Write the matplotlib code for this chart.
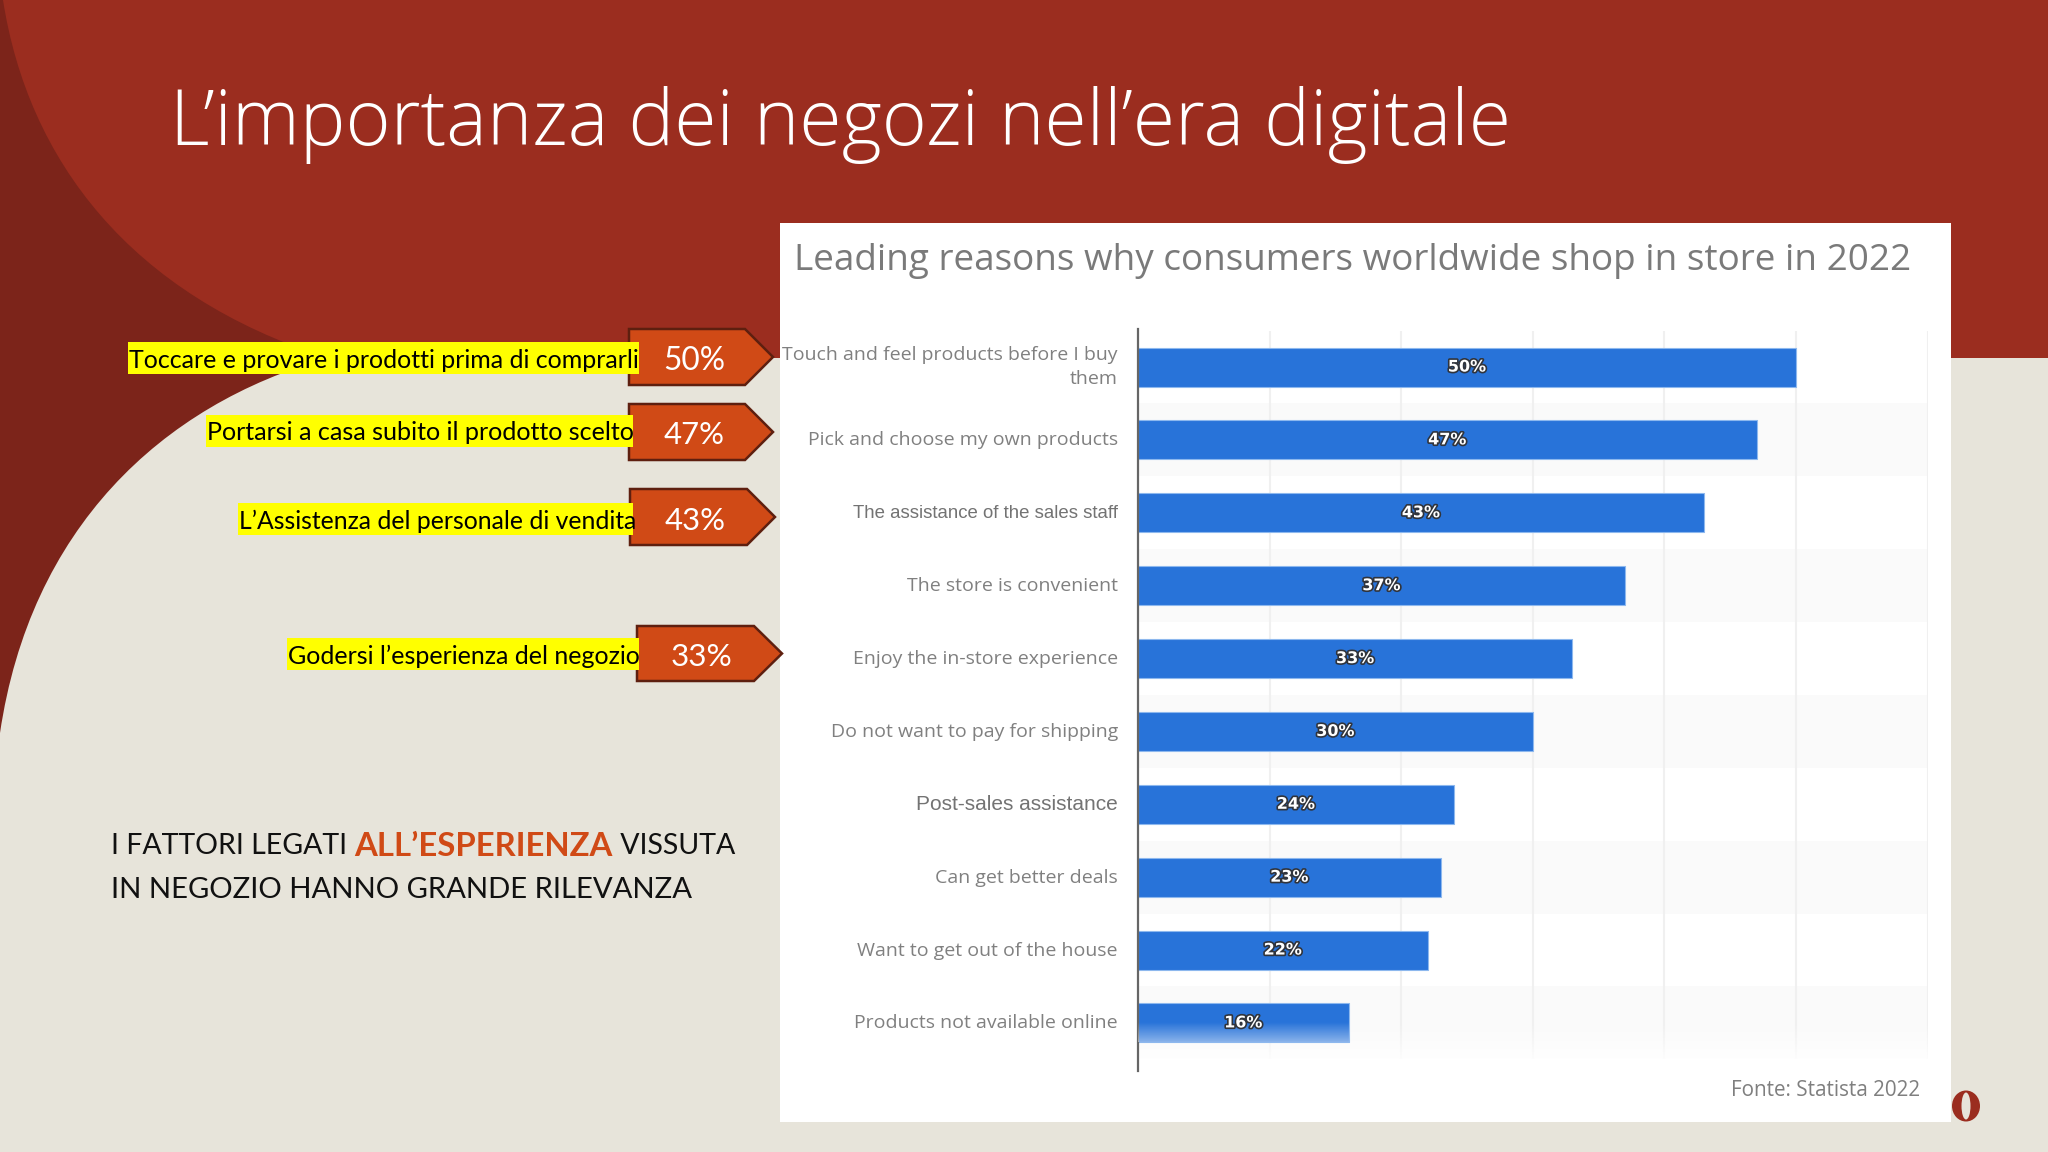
import numpy as np
import matplotlib
matplotlib.use("Agg")
import matplotlib.pyplot as plt
import matplotlib.patheffects as pe
from matplotlib.patches import PathPatch, Polygon, Rectangle, Ellipse
from matplotlib.path import Path
from matplotlib.textpath import TextPath
from matplotlib.font_manager import FontProperties
from matplotlib.transforms import ScaledTranslation

categories = ["Touch and feel products before I buy\nthem", "Pick and choose my own products",
              "The assistance of the sales staff", "The store is convenient",
              "Enjoy the in-store experience", "Do not want to pay for shipping",
              "Post-sales assistance", "Can get better deals",
              "Want to get out of the house", "Products not available online"]
values = [50, 47, 43, 37, 33, 30, 24, 23, 22, 16]
value_labels = ["50%", "47%", "43%", "37%", "33%", "30%", "24%", "23%", "22%", "16%"]
callout_texts = ["Toccare e provare i prodotti prima di comprarli", "Portarsi a casa subito il prodotto scelto",
                 "L’Assistenza del personale di vendita", "Godersi l’esperienza del negozio"]
callout_values = ["50%", "47%", "43%", "33%"]

RED, DARK, BEIGE = "#9B2D1F", "#7C241A", "#E7E4DA"
ORANGE, EDGE, BLUE = "#D04A16", "#5E1F0F", "#2873D9"
S = 2048 / 1568


def fit(s, width, family, weight="normal"):
    fp = FontProperties(family=family, weight=weight)
    w = TextPath((0, 0), s, size=10, prop=fp).get_extents().width
    return 10 * width / w * 72 / 100


fig = plt.figure(figsize=(20.48, 11.52), dpi=100)
bg = fig.add_axes([0, 0, 1, 1])
bg.set_xlim(0, 2048)
bg.set_ylim(1152, 0)
bg.axis("off")
bg.add_patch(Rectangle((0, 0), 2048, 1152, color=BEIGE, lw=0))
bg.add_patch(Rectangle((0, 0), 2048, 358, color=RED, lw=0))
verts = [(3, 0), (28, 160), (130, 295), (328, 358), (160, 405), (30, 530), (0, 733), (0, 0), (3, 0)]
codes = [Path.MOVETO, Path.CURVE4, Path.CURVE4, Path.CURVE4, Path.CURVE4, Path.CURVE4, Path.CURVE4,
         Path.LINETO, Path.CLOSEPOLY]
bg.add_patch(PathPatch(Path(verts, codes), facecolor=DARK, lw=0))

title = "L’importanza dei negozi nell’era digitale"
bg.text(170, 125, title, color="white", family="Open Sans", weight="light",
        fontsize=fit(title, 1327, "Open Sans", "light"), va="center", ha="left")

# card
bg.add_patch(Rectangle((780, 223), 1171, 899, color="white", lw=0))
chart_title = "Leading reasons why consumers worldwide shop in store in 2022"
bg.text(794, 261, chart_title, color="#7A7A7A", family="Open Sans",
        fontsize=fit(chart_title, 1114, "Open Sans"), va="center", ha="left")
bg.text(1920, 1091, "Fonte: Statista 2022", color="#7F7F7F", family="Open Sans",
        fontsize=fit("Fonte: Statista 2022", 186, "Open Sans"), va="center", ha="right")

# logo
bg.add_patch(Ellipse((1966, 1106), 28, 31, color=RED, lw=0))
bg.add_patch(Ellipse((1966, 1106), 9, 27, color=BEIGE, lw=0))

# callouts
boxes = [(629, 329, 56, 745, 773), (629, 404, 56, 745, 773), (630, 489, 56, 747, 775), (637, 626, 55, 754, 782)]
yellows = [(128, 342, 639), (206, 415, 633), (238, 503, 633), (287, 638, 639)]
for (x0, y0, h, sh, tip), (yx0, yy0, yx1), txt, val in zip(boxes, yellows, callout_texts, callout_values):
    bg.add_patch(Polygon([(x0, y0), (sh, y0), (tip, y0 + h / 2), (sh, y0 + h), (x0, y0 + h)],
                         closed=True, facecolor=ORANGE, edgecolor=EDGE, lw=1.8))
    bg.add_patch(Rectangle((yx0, yy0), yx1 - yx0, 32, color="#FFFF00", lw=0, zorder=3))
    bg.text(yx0 + 1, yy0 + 16, txt, color="black", family="Lato", va="center_baseline", ha="left", zorder=4,
            fontsize=fit(txt, yx1 - yx0 - 2, "Lato"))
    bg.text(x0 + 65, y0 + h / 2 + 1, val, color="white", family="Lato", va="center_baseline", ha="center",
            fontsize=fit(val, 59, "Lato"), zorder=4)

# bottom text
fs = fit("IN NEGOZIO HANNO GRANDE RILEVANZA", 581, "Lato")
bg.text(111, 887, "IN NEGOZIO HANNO GRANDE RILEVANZA", color="#111111", family="Lato", fontsize=fs,
        va="center_baseline", ha="left")
fig.canvas.draw()
r = fig.canvas.get_renderer()
x = 111
for s, c, w, size in [("I FATTORI LEGATI ", "#111111", "normal", fs * 0.975),
                      ("ALL’ESPERIENZA", ORANGE, "bold", fs * 1.12),
                      (" VISSUTA", "#111111", "normal", fs * 0.975)]:
    t = bg.text(x, 844, s.replace(" ", "\u00a0"), color=c, family="Lato", weight=w, fontsize=size,
                va="center_baseline", ha="left")
    x += t.get_window_extent(r).width

# chart
top, bottom, left, right = 252 * S, 820 * S, 1138, 1138 + 60 * 131.6 / 10
ax = fig.add_axes([left / 2048, 1 - bottom / 1152, (right - left) / 2048, (bottom - top) / 1152])
ax.patch.set_alpha(0)
y = np.arange(len(categories))
for i in y[1::2]:
    ax.axhspan(i - 0.5, i + 0.5, color="#FAFAFA", lw=0, zorder=0)
ax.vlines(np.arange(10, 70, 10), -0.5, 9.5, color="#F0F0F0", lw=1.5, zorder=1)
fade_low = np.ones((64, 1, 4))
fade_low[..., 3] = np.linspace(0, 1, 64).reshape(-1, 1)
ax.imshow(fade_low, extent=(0, 60, 9.6, 9.0), aspect="auto", zorder=1.5, origin="upper")
ax.barh(y, values, height=0.535, color=BLUE, edgecolor="#8DB8EE", linewidth=0.8, zorder=2)
rgba = np.ones((64, 1, 4))
rgba[..., 3] = np.linspace(0, 0.45, 64).reshape(-1, 1)
ax.imshow(rgba, extent=(0, values[-1], y[-1] + 0.2675, y[-1]), aspect="auto", zorder=3, origin="upper")
ax.set_xlim(0, 60)
ax.set_ylim(9.66, -0.52)
for yi, v, lab in zip(y, values, value_labels):
    ax.text(v / 2, yi, lab, color="white", ha="center", va="center", family="DejaVu Sans", weight="bold",
            fontsize=11.5, zorder=5, path_effects=[pe.withStroke(linewidth=2.4, foreground="#30343C")])
for s in ["top", "right", "bottom"]:
    ax.spines[s].set_visible(False)
ax.spines["left"].set_color("#666666")
ax.spines["left"].set_linewidth(1.6)
ax.set_xticks([])
ax.set_yticks(y, categories, family="Open Sans", fontsize=14, color="#808080", ha="right", linespacing=1.4)
ax.tick_params(axis="y", length=0, pad=14.5)
labels = ax.get_yticklabels()
for i, size in ((2, 13.4), (6, 15)):
    labels[i].set_family("Liberation Sans")
    labels[i].set_fontsize(size)
    labels[i].set_color("#737373")
for i, lab in enumerate(labels):
    lab.set_transform(lab.get_transform() + ScaledTranslation(0, (5 if i == 0 else 1.5) / 100, fig.dpi_scale_trans))

fig.savefig("out.png", dpi=100)
